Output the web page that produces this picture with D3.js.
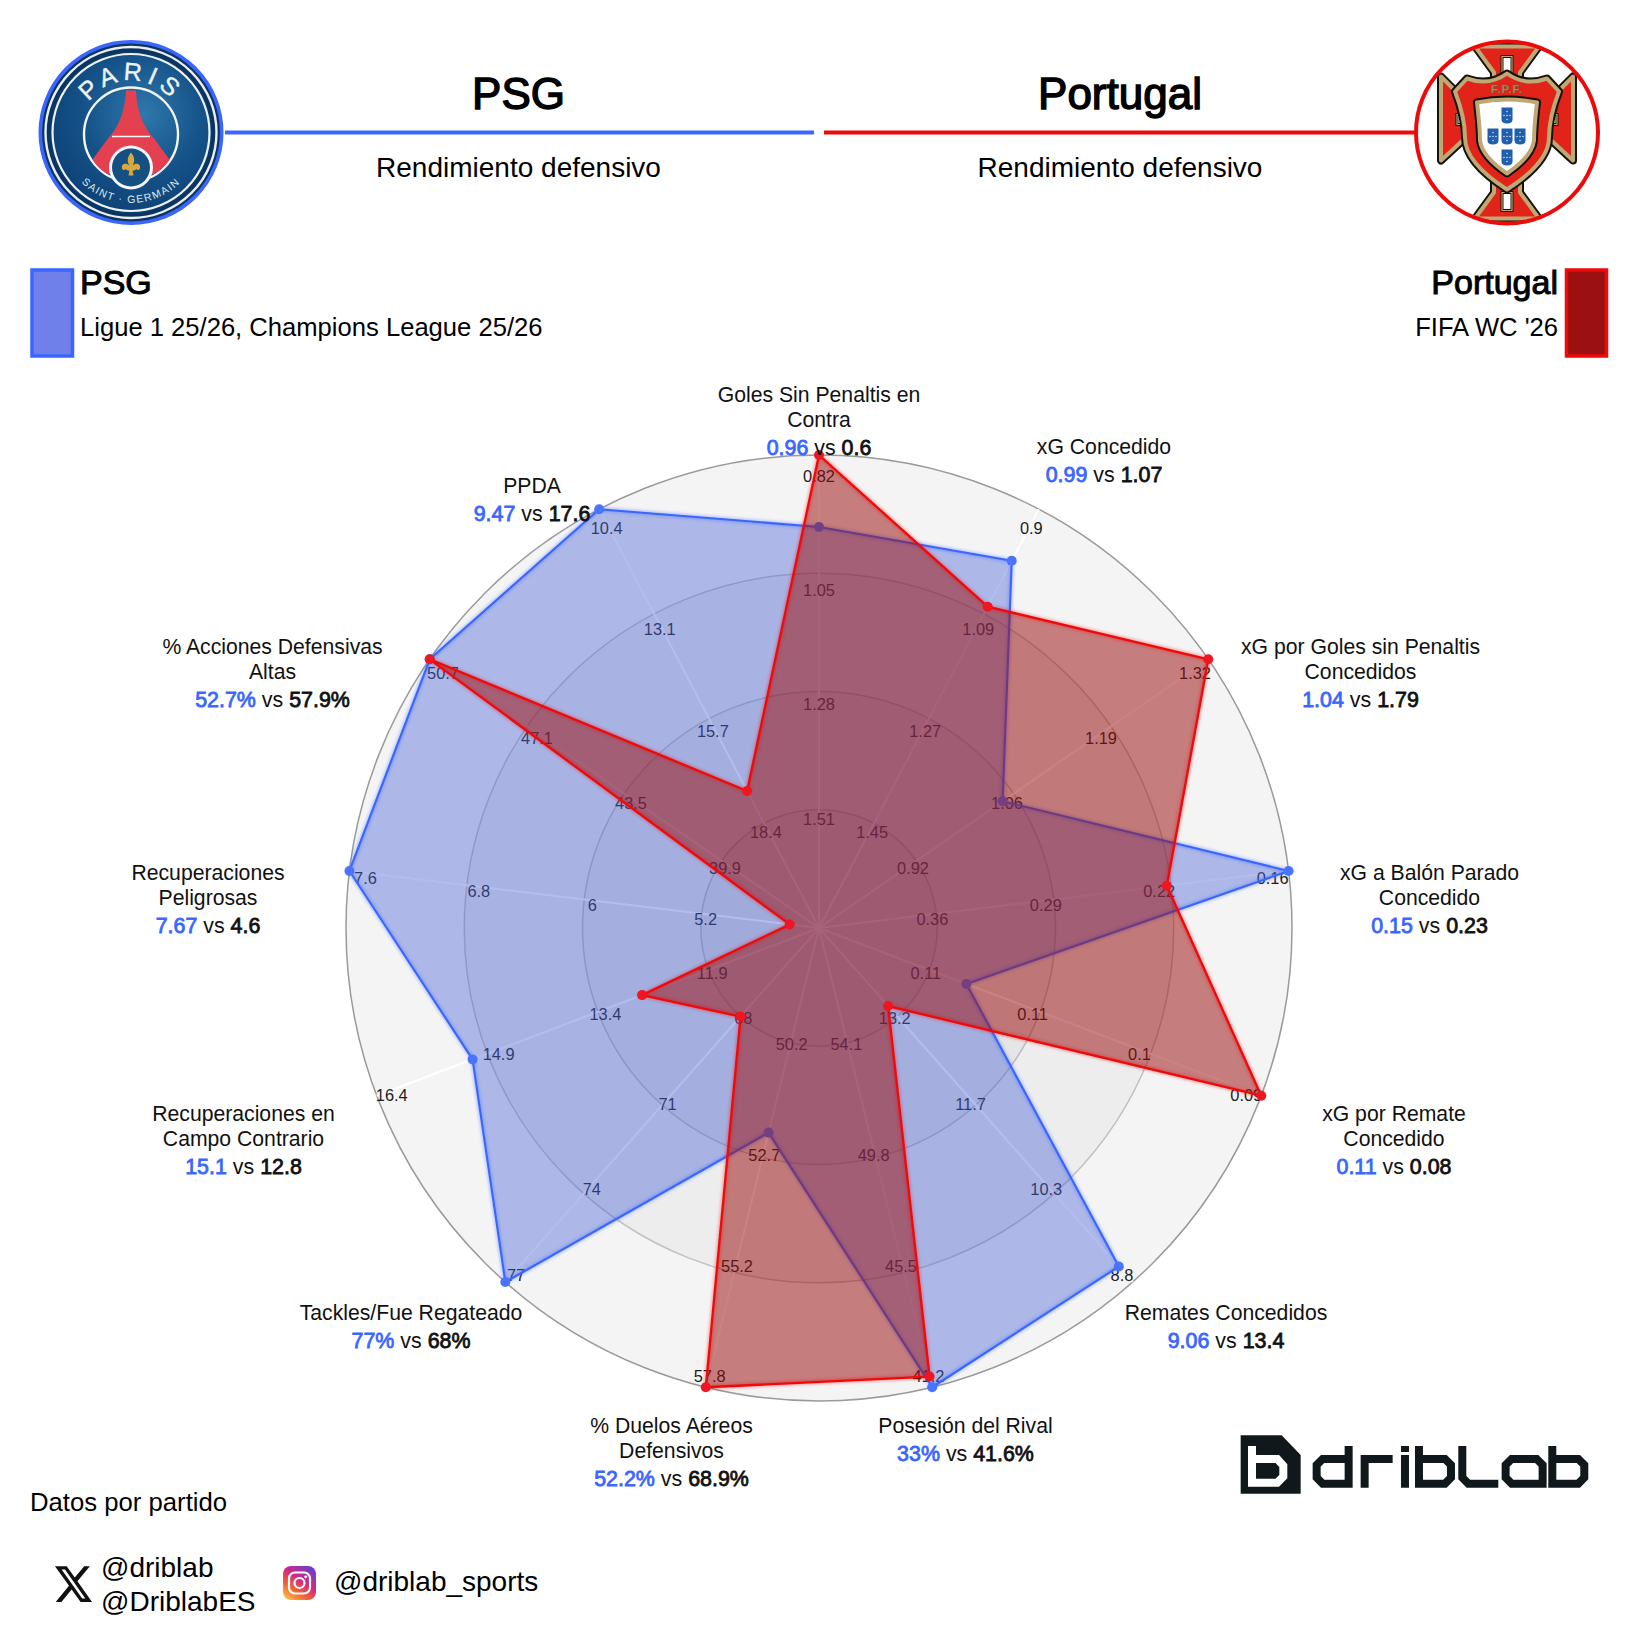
<!DOCTYPE html>
<html lang="es">
<head>
<meta charset="utf-8">
<title>PSG vs Portugal - Rendimiento defensivo</title>
<script src="https://cdn.jsdelivr.net/npm/d3@7"></script>
<style>
  html, body { margin: 0; padding: 0; background: #fff; }
  svg { display: block; }
  text { font-family: "Liberation Sans", Arial, sans-serif; }
</style>
</head>
<body>
<svg id="chart" width="1636" height="1628"></svg>
<script>
// Metrics, clockwise from the top of the radar
const metricNames = [
  ["Goles Sin Penaltis en", "Contra"],
  ["xG Concedido"],
  ["xG por Goles sin Penaltis", "Concedidos"],
  ["xG a Balón Parado", "Concedido"],
  ["xG por Remate", "Concedido"],
  ["Remates Concedidos"],
  ["Posesión del Rival"],
  ["% Duelos Aéreos", "Defensivos"],
  ["Tackles/Fue Regateado"],
  ["Recuperaciones en", "Campo Contrario"],
  ["Recuperaciones", "Peligrosas"],
  ["% Acciones Defensivas", "Altas"],
  ["PPDA"]
];
const valueUnits = ["", "", "", "", "", "", "%", "%", "%", "", "", "%", ""];
const psgValues = [0.96, 0.99, 1.04, 0.15, 0.11, 9.06, 33, 52.2, 77, 15.1, 7.67, 52.7, 9.47];
const portugalValues = [0.6, 1.07, 1.79, 0.23, 0.08, 13.4, 41.6, 68.9, 68, 12.8, 4.6, 57.9, 17.6];

// Value at the radar centre and at the outer ring of each axis
const axisCentre = [1.74, 1.63, 0.79, 0.43, 0.12, 14.7, 58.4, 47.7, 65, 10.4, 4.4, 36.3, 21.1];
const axisOuter = [0.82, 0.9, 1.32, 0.16, 0.09, 8.8, 41.2, 57.8, 77, 16.4, 7.6, 50.7, 10.4];

// Printed ticks, inner ring to outer ring
const tickLabels = [
  ["1.51", "1.28", "1.05", "0.82"],
  ["1.45", "1.27", "1.09", "0.9"],
  ["0.92", "1.06", "1.19", "1.32"],
  ["0.36", "0.29", "0.22", "0.16"],
  ["0.11", "0.11", "0.1", "0.09"],
  ["13.2", "11.7", "10.3", "8.8"],
  ["54.1", "49.8", "45.5", "41.2"],
  ["50.2", "52.7", "55.2", "57.8"],
  ["68", "71", "74", "77"],
  ["11.9", "13.4", "14.9", "16.4"],
  ["5.2", "6", "6.8", "7.6"],
  ["39.9", "43.5", "47.1", "50.7"],
  ["18.4", "15.7", "13.1", "10.4"]
];

// Page layout
const BLUE = "#3a66ff", RED = "#ee0a0a";
const centre = { x: 819, y: 928 };
const R = 473;
const ringCount = 4;
const labelSlots = [
  [819, 394.5], [1104, 446.5], [1360.5, 646], [1429.5, 872.5], [1394, 1113.5],
  [1226, 1312.5], [965.5, 1425.5], [671.5, 1425.5], [411, 1312.5],
  [243.5, 1113.5], [208, 872.5], [272.5, 646], [532, 485]
];

const svg = d3.select("#chart");
const defs = svg.append("defs");

const n = metricNames.length;
const angle = d3.scaleLinear().domain([0, n]).range([0, 2 * Math.PI]);
const ringRadius = d3.scaleLinear().domain([0, ringCount]).range([0, R]);
const axisScales = axisCentre.map((c, i) =>
  d3.scaleLinear().domain([c, axisOuter[i]]).range([0, R]).clamp(true));

// ---------- radar ----------
const radar = svg.append("g").attr("transform", `translate(${centre.x},${centre.y})`);

radar.append("circle").attr("r", R).attr("fill", "#f4f4f4");
radar.selectAll("circle.band").data(d3.range(1, ringCount).reverse()).join("circle")
  .attr("class", "band").attr("r", d => ringRadius(d))
  .attr("fill", "#000").attr("fill-opacity", 0.028);
radar.selectAll("circle.ring").data(d3.range(1, ringCount + 1)).join("circle")
  .attr("class", "ring").attr("r", d => ringRadius(d))
  .attr("fill", "none")
  .attr("stroke", d => d === ringCount ? "#9a9a9a" : "#000")
  .attr("stroke-opacity", d => d === ringCount ? 1 : 0.2)
  .attr("stroke-width", 1.5);

radar.selectAll("line.spoke").data(d3.range(n)).join("line")
  .attr("class", "spoke")
  .attr("x2", i => d3.pointRadial(angle(i), R)[0])
  .attr("y2", i => d3.pointRadial(angle(i), R)[1])
  .attr("stroke", "#fff").attr("stroke-width", 2);

const tickData = tickLabels.flatMap((ticks, i) => ticks.map((t, k) => ({ t, i, k })));
radar.selectAll("text.tick").data(tickData).join("text")
  .attr("class", "tick")
  .attr("text-anchor", "middle")
  .attr("font-size", 16.4)
  .attr("fill", "#1c1c1c")
  .attr("transform", d => {
    const [x, y] = d3.pointRadial(angle(d.i), ringRadius(d.k + 1) * 0.966);
    return `translate(${x},${y + 4 + 6.8})`;
  })
  .text(d => d.t);

const radial = d3.lineRadial()
  .angle((d, i) => angle(i))
  .radius((d, i) => axisScales[i](d))
  .curve(d3.curveLinearClosed);

function drawSeries(values, stroke, width, fill, fillOpacity, dot) {
  const g = radar.append("g");
  g.append("path").attr("d", radial(values))
    .attr("fill", fill).attr("fill-opacity", fillOpacity);
  g.append("path").attr("d", radial(values))
    .attr("fill", "none").attr("stroke", stroke).attr("stroke-width", 4.5)
    .attr("stroke-opacity", 0.35).style("filter", "blur(1.6px)");
  g.append("path").attr("d", radial(values))
    .attr("fill", "none").attr("stroke", stroke).attr("stroke-width", width)
    .attr("stroke-linejoin", "round");
  g.selectAll("circle").data(values).join("circle")
    .attr("cx", (d, i) => d3.pointRadial(angle(i), axisScales[i](d))[0])
    .attr("cy", (d, i) => d3.pointRadial(angle(i), axisScales[i](d))[1])
    .attr("r", 5).attr("fill", dot);
}
drawSeries(psgValues, BLUE, 2.1, "#4a64d8", 0.42, "#4a74ff");
drawSeries(portugalValues, RED, 2.3, "#9b1010", 0.52, "#ee1620");

// ---------- metric captions ----------
const captions = svg.append("g");
metricNames.forEach((lines, i) => {
  const [x, y0] = labelSlots[i];
  lines.forEach((line, k) => {
    captions.append("text").attr("x", x).attr("y", y0 + 7.5 + k * 25)
      .attr("text-anchor", "middle").attr("font-size", 21.2).attr("fill", "#111").text(line);
  });
  const t = captions.append("text").attr("x", x)
    .attr("y", y0 + 7.5 + (lines.length - 1) * 25 + 28.3)
    .attr("text-anchor", "middle").attr("font-size", 21.4).attr("fill", "#111");
  t.append("tspan").attr("fill", BLUE).attr("stroke", BLUE).attr("stroke-width", 0.8)
    .text(psgValues[i] + valueUnits[i]);
  t.append("tspan").text(" vs ");
  t.append("tspan").attr("fill", "#111").attr("stroke", "#111").attr("stroke-width", 0.8)
    .text(portugalValues[i] + valueUnits[i]);
});

// ---------- header ----------
function heavyText(parent, x, y, str, size, anchor, sw) {
  return parent.append("text").attr("x", x).attr("y", y).attr("text-anchor", anchor)
    .attr("font-size", size).attr("fill", "#000")
    .attr("stroke", "#000").attr("stroke-width", sw).text(str);
}
function plainText(parent, x, y, str, size, anchor) {
  return parent.append("text").attr("x", x).attr("y", y).attr("text-anchor", anchor || "start")
    .attr("font-size", size).attr("fill", "#000").text(str);
}

const header = svg.append("g");
header.append("line").attr("x1", 225).attr("x2", 814).attr("y1", 132.5).attr("y2", 132.5)
  .attr("stroke", BLUE).attr("stroke-width", 4);
header.append("line").attr("x1", 824).attr("x2", 1418).attr("y1", 132.5).attr("y2", 132.5)
  .attr("stroke", RED).attr("stroke-width", 4);
heavyText(header, 518.5, 109, "PSG", 44, "middle", 1.4);
heavyText(header, 1120, 109, "Portugal", 44, "middle", 1.4);
plainText(header, 518.5, 176.5, "Rendimiento defensivo", 28, "middle");
plainText(header, 1120, 176.5, "Rendimiento defensivo", 28, "middle");

// ---------- legend ----------
const legend = svg.append("g");
legend.append("rect").attr("x", 32).attr("y", 270).attr("width", 40.5).attr("height", 86)
  .attr("fill", "#6f80e8").attr("stroke", BLUE).attr("stroke-width", 3.5);
legend.append("rect").attr("x", 1566.5).attr("y", 270).attr("width", 40).attr("height", 86)
  .attr("fill", "#9b1010").attr("stroke", RED).attr("stroke-width", 3.5);
heavyText(legend, 80, 294, "PSG", 34, "start", 1);
heavyText(legend, 1558, 294, "Portugal", 34, "end", 1);
plainText(legend, 80, 336, "Ligue 1 25/26, Champions League 25/26", 25.6);
plainText(legend, 1558, 336, "FIFA WC '26", 25.6, "end");

// ---------- crests ----------
function drawPsgCrest() {
  const g = svg.append("g").attr("transform", "translate(131,132.5)");
  const grad = defs.append("radialGradient").attr("id", "psgBlue")
    .attr("cx", "58%").attr("cy", "38%").attr("r", "70%");
  grad.append("stop").attr("offset", "0%").attr("stop-color", "#2f78ac");
  grad.append("stop").attr("offset", "55%").attr("stop-color", "#145288");
  grad.append("stop").attr("offset", "100%").attr("stop-color", "#0d3f74");
  g.append("circle").attr("r", 90).attr("fill", "#0b3560");
  g.append("circle").attr("r", 85.5).attr("fill", "none").attr("stroke", "#e8eef2").attr("stroke-width", 2.4);
  g.append("circle").attr("r", 81).attr("fill", "#0a3c6d");
  g.append("circle").attr("r", 78.5).attr("fill", "url(#psgBlue)").attr("stroke", "#eef2f4").attr("stroke-width", 2.2);
  g.append("circle").attr("cy", 2).attr("r", 47).attr("fill", "none").attr("stroke", "#f4f6f7").attr("stroke-width", 2.4);
  const clipId = "psgInner";
  defs.append("clipPath").attr("id", clipId).append("circle").attr("cy", 2).attr("r", 46);
  const inner = g.append("g").attr("clip-path", `url(#${clipId})`);
  inner.append("path")
    .attr("d", "M-5,-42 L5,-42 C6,-18 14,-4 23,6 L40,29 L30,42 L-30,42 L-40,29 L-23,6 C-14,-4 -6,-18 -5,-42 Z")
    .attr("fill", "#e5404f");
  inner.append("path").attr("d", "M-19,4 H19").attr("stroke", "#f4f6f7").attr("stroke-width", 1.6);
  g.append("circle").attr("cy", 35).attr("r", 22).attr("fill", "#f4f6f7");
  g.append("circle").attr("cy", 35).attr("r", 19).attr("fill", "#155083");
  g.append("path")
    .attr("d", "M0,20 C4,25 4,29 1.5,33 C5,30 10,31 9,36 C8,38 6,38 5.5,36.5 C4,38 2,38.5 1.5,38 L2.5,43 L-2.5,43 L-1.5,38 C-2,38.5 -4,38 -5.5,36.5 C-6,38 -8,38 -9,36 C-10,31 -5,30 -1.5,33 C-4,29 -4,25 0,20 Z")
    .attr("fill", "#d9a83f");

  defs.append("path").attr("id", "psgTop").attr("d", "M-52,0 A52,52 0 0 1 52,0");
  defs.append("path").attr("id", "psgBottom").attr("d", "M-70.5,0 A70.5,70.5 0 0 0 70.5,0");
  const top = g.append("text").attr("font-size", 25).attr("fill", "#eef2f4")
    .attr("stroke", "#eef2f4").attr("stroke-width", 0.4)
    .attr("letter-spacing", 5).attr("text-anchor", "middle");
  top.append("textPath").attr("href", "#psgTop").attr("startOffset", "50%").text("PARIS");
  const bottom = g.append("text").attr("font-size", 10.5).attr("fill", "#dfe7ec")
    .attr("letter-spacing", 1.4).attr("text-anchor", "middle");
  bottom.append("textPath").attr("href", "#psgBottom").attr("startOffset", "50%").text("SAINT · GERMAIN");
  g.append("circle").attr("r", 90.7).attr("fill", "none").attr("stroke", BLUE).attr("stroke-width", 3.6);
}

function drawPortugalCrest() {
  const g = svg.append("g").attr("transform", "translate(1507,132.5)");
  g.append("circle").attr("r", 91).attr("fill", "#fff");
  defs.append("clipPath").attr("id", "porClip").append("circle").attr("r", 91);
  const c = g.append("g").attr("clip-path", "url(#porClip)");
  const layered = (d, fill) => {
    c.append("path").attr("d", d).attr("fill", "none").attr("stroke", "#15120c").attr("stroke-width", 8).attr("stroke-linejoin", "round");
    c.append("path").attr("d", d).attr("fill", fill).attr("stroke", "#bfa873").attr("stroke-width", 4).attr("stroke-linejoin", "round");
  };
  const slit = d => {
    c.append("path").attr("d", d).attr("fill", "#fff").attr("stroke", "#15120c").attr("stroke-width", 3);
    c.append("path").attr("d", d).attr("fill", "none").attr("stroke", "#bfa873").attr("stroke-width", 1.2);
  };
  layered("M-32,-86 H32 L13,-60 V60 L32,86 H-32 L-13,60 V-60 Z", "#e2231a");
  layered("M-66,-56 L-40,-30 H40 L66,-56 V28 L40,4 H-40 L-66,28 Z", "#e2231a");
  slit("M-5,-76 H5 V-56 H-5 Z");
  slit("M-5,78 H5 V60 H-5 Z");
  slit("M-50,-18 H-40 V-8 H-50 Z");
  slit("M50,-18 H40 V-8 H50 Z");
  layered("M-52,-41 L-40,-54 Q-18,-46 0,-59 Q18,-46 40,-54 L52,-41 Q42,-15 42,5 Q42,30 0,57 Q-42,30 -42,5 Q-42,-15 -52,-41 Z", "#e2231a");
  layered("M-30,-30 Q0,-36 30,-30 Q27,-5 27,8 Q25,24 0,41 Q-25,24 -27,8 Q-27,-5 -30,-30 Z", "#fff");
  c.append("text").attr("y", -40).attr("text-anchor", "middle").attr("font-size", 11.5)
    .attr("font-weight", "bold").attr("letter-spacing", 0.8).attr("fill", "#a89268")
    .attr("stroke", "#6d5a3a").attr("stroke-width", 0.3).text("F.P.F.");
  [[0, -17], [-14, 4], [0, 4], [13, 4], [0, 25]].forEach(([x, y]) => {
    c.append("path").attr("d", `M${x - 5.5},${y - 8} H${x + 5.5} V${y + 4} Q${x + 5.5},${y + 8} ${x},${y + 8} Q${x - 5.5},${y + 8} ${x - 5.5},${y + 4} Z`)
      .attr("fill", "#1f5fae");
    c.selectAll(null).data([[0, -4], [-3, 0], [3, 0], [0, 4], [0, 0]]).join("circle")
      .attr("cx", d => x + d[0]).attr("cy", d => y + d[1]).attr("r", 0.8).attr("fill", "#cfe0f0");
  });
  g.append("circle").attr("r", 91).attr("fill", "none").attr("stroke", RED).attr("stroke-width", 4);
}
drawPsgCrest();
drawPortugalCrest();

// ---------- footer ----------
const footer = svg.append("g");
plainText(footer, 30, 1510.5, "Datos por partido", 25.7);
plainText(footer, 101, 1577, "@driblab", 28);
plainText(footer, 101, 1610.5, "@DriblabES", 28);
plainText(footer, 334, 1591, "@driblab_sports", 28);

footer.append("path")
  .attr("transform", "translate(52.8,1562) scale(1.72,1.84)")
  .attr("d", "M18.244 2.25h3.308l-7.227 8.26 8.502 11.24H16.17l-5.214-6.817L4.99 21.75H1.68l7.73-8.835L1.254 2.25H8.08l4.713 6.231zm-1.161 17.52h1.833L7.084 4.126H5.117z")
  .attr("fill", "#111");

const ig = defs.append("linearGradient").attr("id", "igGrad")
  .attr("x1", "10%").attr("y1", "100%").attr("x2", "80%").attr("y2", "0%");
[["0%", "#fdc24f"], ["30%", "#f2692f"], ["60%", "#d6277f"], ["100%", "#6a3fd0"]].forEach(([o, col]) =>
  ig.append("stop").attr("offset", o).attr("stop-color", col));
const igG = footer.append("g").attr("transform", "translate(283,1566)");
igG.append("rect").attr("width", 33).attr("height", 34).attr("rx", 8).attr("fill", "url(#igGrad)");
igG.append("rect").attr("x", 6).attr("y", 6.5).attr("width", 21).attr("height", 21).attr("rx", 6)
  .attr("fill", "none").attr("stroke", "#fff").attr("stroke-width", 2.2);
igG.append("circle").attr("cx", 16.5).attr("cy", 17).attr("r", 5).attr("fill", "none").attr("stroke", "#fff").attr("stroke-width", 2.2);
igG.append("circle").attr("cx", 22.7).attr("cy", 10.8).attr("r", 1.4).attr("fill", "#fff");

// driblab wordmark, drawn as thick polylines on a 1/3 px grid
const INK = "#10181c";
const mark = svg.append("g").attr("transform", "translate(1200,1400) scale(0.3333)");
mark.append("path").attr("d", "M122,106 H245 L302,165 V281 H122 Z").attr("fill", INK);
mark.append("path").attr("d", "M156,138 V248 H232 L250,230 V197 L232,177 H156")
  .attr("fill", "none").attr("stroke", "#fff").attr("stroke-width", 24);
[
  "M446,138 V251 H368 L350,233 V195 L368,177 H446",
  "M494,263 V177 H578",
  "M615,165 V263 M615,138 V156",
  "M657,138 V251 H735 L753,233 V195 L735,177 H657",
  "M787,138 V233 L805,251 H895",
  "M1028,263 V195 L1010,177 H935 L917,195 V233 L935,251 H1028",
  "M1057,138 V251 H1135 L1153,233 V195 L1135,177 H1057"
].forEach(d => mark.append("path").attr("d", d)
  .attr("fill", "none").attr("stroke", INK).attr("stroke-width", 24));
</script>
</body>
</html>
